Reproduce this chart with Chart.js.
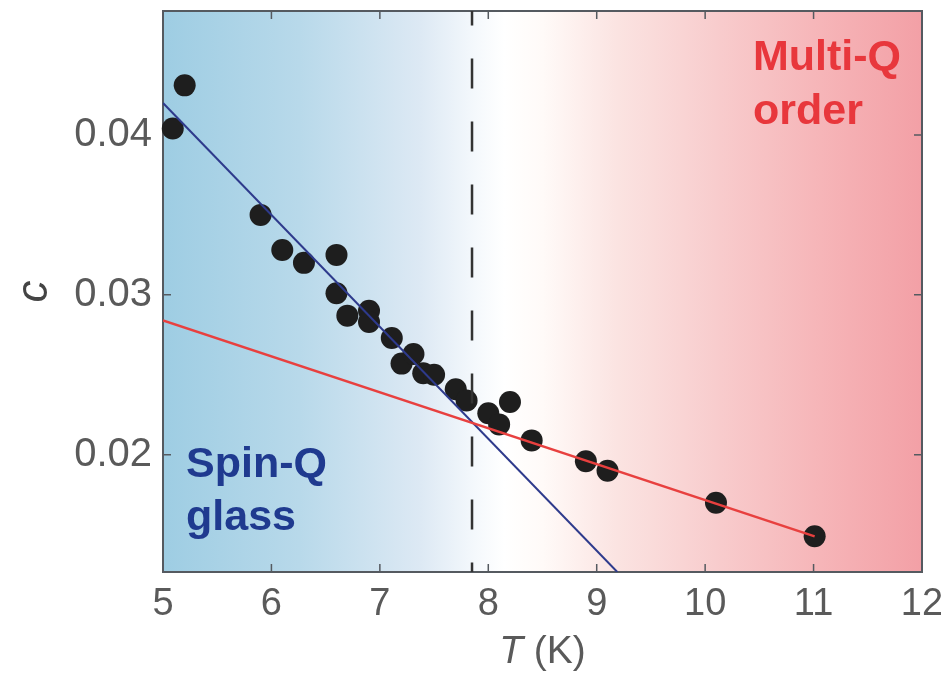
<!DOCTYPE html>
<html>
<head>
<meta charset="utf-8">
<script src="https://cdn.jsdelivr.net/npm/chart.js@4.4.0/dist/chart.umd.min.js"></script>
<style>
  html, body { margin: 0; padding: 0; background: #fff; }
  #wrap { width: 941px; height: 676px; }
</style>
</head>
<body>
<div id="wrap"><canvas id="chart"></canvas></div>
<script>
// measured points
const tempK = [5.09, 5.20, 5.90, 6.10, 6.30, 6.60, 6.60, 6.70, 6.90, 6.90, 7.11, 7.20, 7.31, 7.40, 7.50, 7.70, 7.80, 8.00, 8.10, 8.20, 8.40, 8.90, 9.10, 10.10, 11.01];
const cValues = [0.0404, 0.0431, 0.0350, 0.0328, 0.0320, 0.0325, 0.0301, 0.0287, 0.0290, 0.0283, 0.0273, 0.0257, 0.0263, 0.0251, 0.0250, 0.0241, 0.0234, 0.0226, 0.0219, 0.0233, 0.0209, 0.0196, 0.0190, 0.0170, 0.0149];

// linear fits
const glassFitT = [5, 9.19];
const glassFitC = [0.0420, 0.01267];
const orderFitT = [5, 11.01];
const orderFitC = [0.0284, 0.0149];

const transitionT = 7.85;

const xTicks = [5, 6, 7, 8, 9, 10, 11, 12];
const yTicks = [0.02, 0.03, 0.04];
const xRange = [5, 12];
const yRange = [0.01267, 0.04775];

const pts = (xs, ys) => xs.map((x, i) => ({ x: x, y: ys[i] }));

const framePlugin = {
  id: 'frame',
  beforeDraw(chart) {
    const { ctx, chartArea: a } = chart;
    const g = ctx.createLinearGradient(a.left, 0, a.right, 0);
    g.addColorStop(0, '#9ecde3');
    g.addColorStop(0.18, '#b8d9ea');
    g.addColorStop(0.34, '#dde9f4');
    g.addColorStop(0.41, '#f4f8fc');
    g.addColorStop(0.45, '#ffffff');
    g.addColorStop(0.50, '#fffaf8');
    g.addColorStop(0.60, '#fbe3e1');
    g.addColorStop(0.73, '#f8cccd');
    g.addColorStop(0.86, '#f6b6b9');
    g.addColorStop(1, '#f3a0a6');
    ctx.save();
    ctx.fillStyle = g;
    ctx.fillRect(a.left, a.top, a.right - a.left, a.bottom - a.top);
    ctx.restore();
  },
  beforeDatasetsDraw(chart) {
    const { ctx, chartArea: a, scales } = chart;
    ctx.save();
    ctx.strokeStyle = '#555a60';
    ctx.lineWidth = 2;
    ctx.strokeRect(a.left, a.top, a.right - a.left, a.bottom - a.top);
    ctx.lineWidth = 1.5;
    ctx.beginPath();
    const len = 8;
    xTicks.forEach(v => {
      const x = scales.x.getPixelForValue(v);
      ctx.moveTo(x, a.bottom); ctx.lineTo(x, a.bottom - len);
      ctx.moveTo(x, a.top); ctx.lineTo(x, a.top + len);
    });
    yTicks.forEach(v => {
      const y = scales.y.getPixelForValue(v);
      ctx.moveTo(a.left, y); ctx.lineTo(a.left + len, y);
      ctx.moveTo(a.right, y); ctx.lineTo(a.right - len, y);
    });
    ctx.stroke();
    ctx.restore();
  },
  afterDatasetsDraw(chart) {
    const { ctx, chartArea: a } = chart;
    ctx.save();
    ctx.textBaseline = 'alphabetic';
    ctx.textAlign = 'left';
    ctx.font = 'bold 43px "Liberation Sans", Arial, sans-serif';
    ctx.fillStyle = '#1f3a8f';
    ctx.fillText('Spin-Q', 186, 477);
    ctx.fillText('glass', 186, 530);
    ctx.fillStyle = '#e8373c';
    ctx.fillText('Multi-Q', 753, 70);
    ctx.fillText('order', 753, 124);

    // x axis title: italic T + (K)
    const fItal = 'italic 39px "Liberation Sans", Arial, sans-serif';
    const fNorm = '39px "Liberation Sans", Arial, sans-serif';
    ctx.font = fItal;
    const w1 = ctx.measureText('T').width;
    ctx.font = fNorm;
    const w2 = ctx.measureText(' (K)').width;
    const x0 = (a.left + a.right) / 2 - (w1 + w2) / 2;
    ctx.fillStyle = '#5a5a5a';
    ctx.textBaseline = 'middle';
    ctx.font = fItal;
    ctx.fillText('T', x0, 652);
    ctx.font = fNorm;
    ctx.fillText(' (K)', x0 + w1, 652);
    ctx.restore();
  }
};

new Chart(document.getElementById('chart'), {
  type: 'scatter',
  data: {
    datasets: [
      {
        label: 'Multi-Q fit',
        type: 'line',
        data: pts(orderFitT, orderFitC),
        borderColor: '#e8403f',
        borderWidth: 2.5,
        pointRadius: 0,
        fill: false
      },
      {
        label: 'Spin-Q glass fit',
        type: 'line',
        data: pts(glassFitT, glassFitC),
        borderColor: '#2e3a8c',
        borderWidth: 2,
        pointRadius: 0,
        fill: false
      },
      {
        label: 'transition',
        type: 'line',
        data: [{ x: transitionT, y: yRange[1] }, { x: transitionT, y: yRange[0] }],
        borderColor: '#333333',
        borderWidth: 2.5,
        borderDash: [30, 33],
        borderDashOffset: 15.5,
        pointRadius: 0,
        fill: false
      },
      {
        label: 'c',
        data: pts(tempK, cValues),
        backgroundColor: '#1e1e1e',
        borderColor: '#1e1e1e',
        borderWidth: 0,
        pointRadius: 11,
        pointHoverRadius: 11,
        clip: false
      }
    ]
  },
  options: {
    responsive: true,
    maintainAspectRatio: false,
    animation: false,
    layout: { padding: { left: 0, top: 8, right: 19, bottom: 0 } },
    plugins: {
      legend: { display: false },
      tooltip: { enabled: false }
    },
    scales: {
      x: {
        type: 'linear',
        min: xRange[0],
        max: xRange[1],
        afterBuildTicks: s => { s.ticks = xTicks.map(v => ({ value: v })); },
        afterFit: s => { s.height = 104; s.paddingLeft = 0; s.paddingRight = 0; },
        grid: { display: false, drawTicks: false },
        border: { display: false },
        ticks: {
          padding: 10,
          color: '#5a5a5a',
          font: { family: '"Liberation Sans", Arial, sans-serif', size: 38 },
          maxRotation: 0,
          callback: v => String(v)
        }
      },
      y: {
        type: 'linear',
        min: yRange[0],
        max: yRange[1],
        afterBuildTicks: s => { s.ticks = yTicks.map(v => ({ value: v })); },
        afterFit: s => { s.width = 163; s.paddingTop = 0; s.paddingBottom = 0; },
        grid: { display: false, drawTicks: false },
        border: { display: false },
        title: {
          display: true,
          text: 'c',
          color: '#444',
          font: { family: '"Liberation Sans", Arial, sans-serif', size: 44, style: 'italic' },
          padding: { top: 8, bottom: 0 }
        },
        ticks: {
          padding: 11,
          color: '#5a5a5a',
          font: { family: '"Liberation Sans", Arial, sans-serif', size: 40 },
          callback: v => v.toFixed(2)
        }
      }
    }
  },
  plugins: [framePlugin]
});
</script>
</body>
</html>
